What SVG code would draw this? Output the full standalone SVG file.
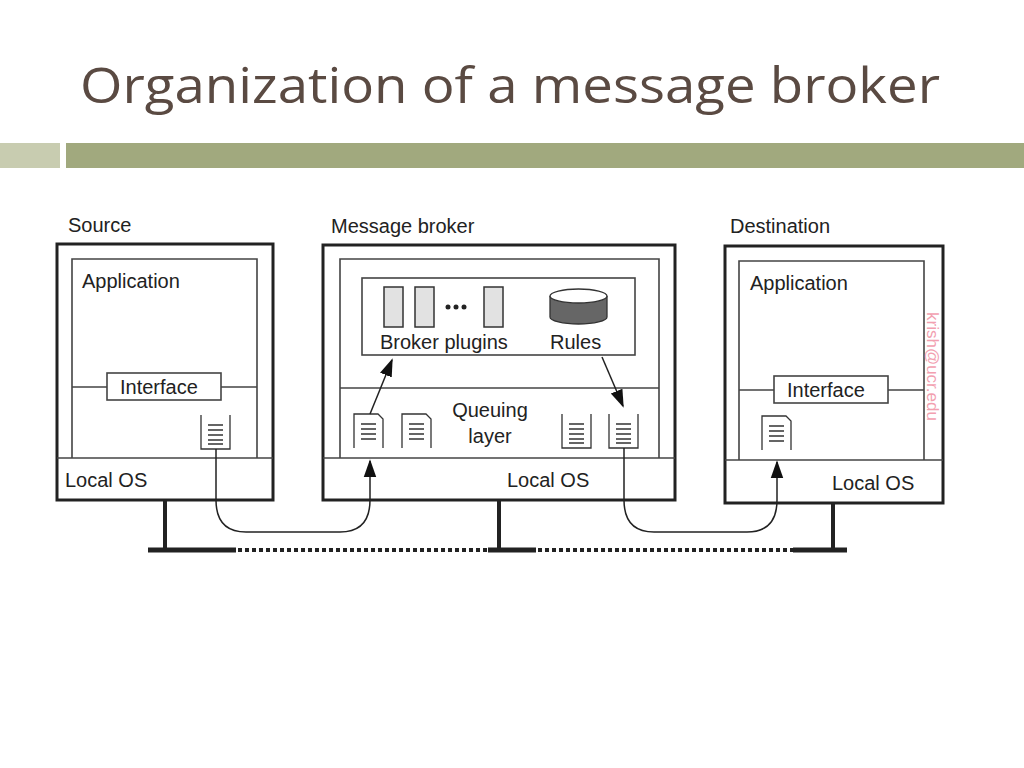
<svg xmlns="http://www.w3.org/2000/svg" width="1024" height="768" viewBox="0 0 1024 768">
<style>
.t{font-family:"Liberation Sans",Arial,sans-serif;font-size:20px;fill:#222}
.b{fill:none;stroke:#222;stroke-width:3}
.i{fill:none;stroke:#444;stroke-width:1.6}
.c{fill:none;stroke:#222;stroke-width:1.5}
.q{fill:none;stroke:#333;stroke-width:1.3}
</style>
<defs>
<marker id="A" viewBox="0 0 10 10" refX="9" refY="5" markerWidth="18" markerHeight="18" orient="auto" markerUnits="userSpaceOnUse"><path d="M0,1.5L10,5L0,8.5z" fill="#111"/></marker>
<g id="qi"><path d="M0,0V34H29V0" class="q"/><path d="M7,10H22M7,15H22M7,20H22M7,25H22M7,29H22" stroke="#333" stroke-width="1.3"/></g>
<g id="qd"><path d="M0,34V0H24L29,5V34" class="q"/><path d="M7,10H22M7,15H22M7,20H22M7,25H22" stroke="#333" stroke-width="1.3"/></g>
</defs>
<rect width="1024" height="768" fill="#fff"/>
<text x="80" y="103" font-family="'Open Sans','Liberation Sans',sans-serif" font-size="50" fill="#5a4a42" textLength="860" lengthAdjust="spacingAndGlyphs">Organization of a message broker</text>
<rect x="0" y="143" width="60" height="25" fill="#c8ccb0"/>
<rect x="66" y="143" width="958" height="25" fill="#a1a97e"/>

<g id="source">
<text x="68" y="232" class="t">Source</text>
<rect x="57" y="244" width="216" height="256" class="b"/>
<path d="M72,458V259H257V458" class="i"/>
<line x1="57" y1="458" x2="273" y2="458" class="i"/>
<path d="M72,387H107M221,387H257" class="i"/>
<rect x="107" y="373" width="114" height="27" class="i"/>
<text x="120" y="394" class="t">Interface</text>
<text x="82" y="288" class="t">Application</text>
<text x="65" y="487" class="t">Local OS</text>
<use href="#qi" x="201" y="415"/>
</g>

<g id="broker">
<text x="331" y="233" class="t">Message broker</text>
<rect x="323" y="245" width="352" height="255" class="b"/>
<path d="M340,458V259H659V458" class="i"/>
<line x1="323" y1="458" x2="675" y2="458" class="i"/>
<line x1="340" y1="388" x2="659" y2="388" class="i"/>
<rect x="362" y="278" width="273" height="77" class="i"/>
<rect x="384" y="287" width="19" height="40" fill="#e2e2e2" stroke="#333" stroke-width="1.5"/>
<rect x="415" y="287" width="19" height="40" fill="#e2e2e2" stroke="#333" stroke-width="1.5"/>
<rect x="484" y="287" width="19" height="40" fill="#e2e2e2" stroke="#333" stroke-width="1.5"/>
<circle cx="448" cy="307" r="2.5" fill="#222"/><circle cx="456" cy="307" r="2.5" fill="#222"/><circle cx="464" cy="307" r="2.5" fill="#222"/>
<path d="M550,296V317A28.5,7 0 0 0 607,317V296" fill="#666" stroke="#333" stroke-width="1.3"/>
<ellipse cx="578.5" cy="296" rx="28.5" ry="7" fill="#fff" stroke="#333" stroke-width="1.3"/>
<text x="380" y="349" class="t">Broker plugins</text>
<text x="550" y="349" class="t">Rules</text>
<text x="490" y="417" class="t" text-anchor="middle">Queuing</text>
<text x="490" y="443" class="t" text-anchor="middle">layer</text>
<text x="507" y="487" class="t">Local OS</text>
<use href="#qd" x="354" y="414"/>
<use href="#qd" x="402" y="414"/>
<use href="#qi" x="562" y="414"/>
<use href="#qi" x="609" y="414"/>
</g>

<g id="destination">
<text x="730" y="233" class="t">Destination</text>
<rect x="725" y="246" width="218" height="257" class="b"/>
<path d="M739,460V261H924V460" class="i"/>
<line x1="725" y1="460" x2="943" y2="460" class="i"/>
<path d="M739,390H774M888,390H924" class="i"/>
<rect x="774" y="376" width="114" height="27" class="i"/>
<text x="787" y="397" class="t">Interface</text>
<text x="750" y="290" class="t">Application</text>
<text x="832" y="490" class="t">Local OS</text>
<use href="#qd" x="762" y="416"/>
<text x="0" y="0" transform="translate(927,312) rotate(90)" font-family="'Liberation Sans',sans-serif" font-size="17" fill="#f2a0b0">krish@ucr.edu</text>
</g>

<g id="network">
<path d="M165,500V550M499,500V550M833,503V550" stroke="#222" stroke-width="4"/>
<path d="M148,550H236M488,550H536M793,550H847" stroke="#222" stroke-width="5"/>
<path d="M238,550H488M538,550H793" stroke="#222" stroke-width="4" stroke-dasharray="4,3"/>
</g>

<g id="connectors">
<path d="M216,449V500Q216,532 246,532H340Q370,532 370,500V461" class="c" marker-end="url(#A)"/>
<path d="M370,414L392,360" class="c" marker-end="url(#A)"/>
<path d="M602,357L623,406" class="c" marker-end="url(#A)"/>
<path d="M624,448V500Q624,532 654,532H747Q777,532 777,500V462" class="c" marker-end="url(#A)"/>
</g>
</svg>
